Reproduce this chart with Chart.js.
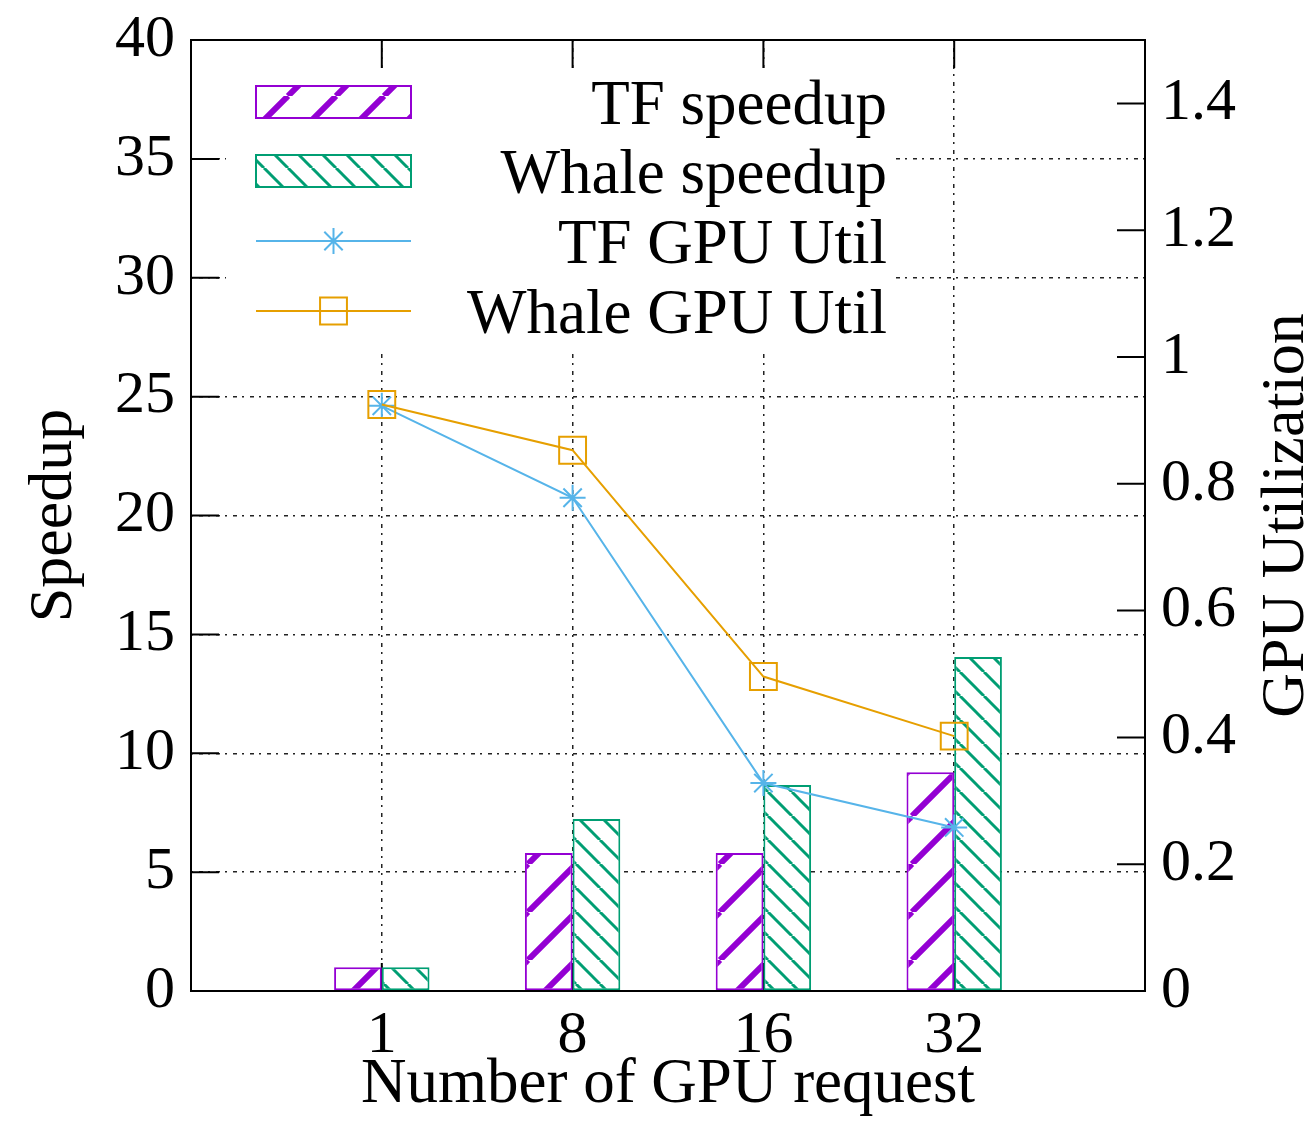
<!DOCTYPE html>
<html>
<head>
<meta charset="utf-8">
<title>Speedup and GPU utilization</title>
<script src="https://cdn.jsdelivr.net/npm/chart.js@4.4.0/dist/chart.umd.min.js"></script>
<style>
  html, body { margin: 0; padding: 0; background: #fff; }
</style>
</head>
<body>
<canvas id="chart1" width="1316" height="1123"></canvas>
<script>
'use strict'

// data
var categories = ['1', '8', '16', '32'];
var tfSpeedup = [1.0, 5.8, 5.8, 9.2];
var whaleSpeedup = [1.0, 7.23, 8.66, 14.05];
var tfUtil = [0.923, 0.778, 0.328, 0.258];
var whaleUtil = [0.925, 0.853, 0.496, 0.402];

var speedupTicks = [0, 5, 10, 15, 20, 25, 30, 35, 40];
var utilTicks = [0, 0.2, 0.4, 0.6, 0.8, 1, 1.2, 1.4];
var utilMax = 1.5;

var names = ['TF speedup', 'Whale speedup', 'TF GPU Util', 'Whale GPU Util'];

var serif = "'Liberation Serif', 'Times New Roman', serif";
var purple = '#9400d3';
var green = '#009e73';
var blue = '#56b4e9';
var orange = '#e69f00';

/////////////////////////////////////////////////////////////////
// empty slot at each end so the 4 groups sit like in gnuplot
function pad(arr) {
  return [null].concat(arr, [null]);
}
var labels = [''].concat(categories, ['']);

/////////////////////////////////////////////////////////////////
function hatch(color, size, width, dir) {
  var c = document.createElement('canvas');
  c.width = size;
  c.height = size;
  var g = c.getContext('2d');
  g.fillStyle = '#fff';
  g.fillRect(0, 0, size, size);
  g.strokeStyle = color;
  g.lineWidth = width;
  g.lineCap = 'butt';
  for (var k = -1; k <= 1; k++) {
    g.beginPath();
    if (dir === '/') {
      g.moveTo(k * size, size);
      g.lineTo(k * size + size, 0);
    } else {
      g.moveTo(k * size, 0);
      g.lineTo(k * size + size, size);
    }
    g.stroke();
  }
  return g.createPattern(c, 'repeat');
}

var tfFill = hatch(purple, 48, 6, '/');
var whaleFill = hatch(green, 24, 3, '\\');

/////////////////////////////////////////////////////////////////
var gridDash = [2, 6, 4, 5];

function tickMarks(chart) {
  var ctx = chart.ctx;
  var a = chart.chartArea;
  var x = chart.scales.x, y = chart.scales.y, y2 = chart.scales.y2;
  var len = 28;
  ctx.save();
  ctx.strokeStyle = '#000';
  ctx.lineWidth = 2;
  ctx.beginPath();
  for (var i = 0; i < speedupTicks.length; i++) {
    var py = y.getPixelForValue(speedupTicks[i]);
    ctx.moveTo(a.left, py);
    ctx.lineTo(a.left + len, py);
  }
  for (var j = 0; j < utilTicks.length; j++) {
    var py2 = y2.getPixelForValue(utilTicks[j]);
    ctx.moveTo(a.right, py2);
    ctx.lineTo(a.right - len, py2);
  }
  for (var k = 1; k <= categories.length; k++) {
    var px = x.getPixelForValue(k);
    ctx.moveTo(px, a.bottom);
    ctx.lineTo(px, a.bottom - len);
    ctx.moveTo(px, a.top);
    ctx.lineTo(px, a.top + len);
  }
  ctx.stroke();
  ctx.restore();
}

function frame(chart) {
  var ctx = chart.ctx;
  var a = chart.chartArea;
  ctx.save();
  ctx.strokeStyle = '#000';
  ctx.lineWidth = 2;
  ctx.strokeRect(a.left, a.top, a.right - a.left, a.bottom - a.top);
  ctx.restore();
}

function rightTitle(chart) {
  var ctx = chart.ctx;
  var a = chart.chartArea;
  ctx.save();
  ctx.translate(1287, (a.top + a.bottom) / 2);
  ctx.rotate(-Math.PI / 2);
  ctx.font = '62px ' + serif;
  ctx.fillStyle = '#000';
  ctx.textAlign = 'center';
  ctx.textBaseline = 'middle';
  ctx.fillText(chart.options.scales.y2.title.text, 0, 0);
  ctx.restore();
}

function legendBox(chart) {
  var ctx = chart.ctx;
  var rows = [102, 171, 241, 311];
  var sx = 256, sw = 155;
  ctx.save();
  ctx.fillStyle = '#fff';
  ctx.fillRect(226, 68, 668, 280);
  chart.data.datasets.forEach(function (ds, i) {
    var ry = rows[i];
    if (ds.type === 'line') {
      ctx.strokeStyle = ds.borderColor;
      ctx.lineWidth = ds.borderWidth;
      ctx.beginPath();
      ctx.moveTo(sx, ry);
      ctx.lineTo(sx + sw, ry);
      ctx.stroke();
      ctx.fillStyle = 'rgba(0,0,0,0)';
      ctx.lineWidth = ds.pointBorderWidth;
      Chart.helpers.drawPoint(ctx, {
        pointStyle: ds.pointStyle,
        radius: ds.pointRadius,
        rotation: 0,
        borderWidth: ds.pointBorderWidth
      }, sx + sw / 2, ry);
    } else {
      ctx.fillStyle = ds.backgroundColor;
      ctx.fillRect(sx, ry - 16, sw, 32);
      ctx.strokeStyle = ds.borderColor;
      ctx.lineWidth = 2;
      ctx.strokeRect(sx, ry - 16, sw, 32);
    }
    ctx.fillStyle = '#000';
    ctx.font = '63px ' + serif;
    ctx.textAlign = 'right';
    ctx.textBaseline = 'alphabetic';
    ctx.fillText(ds.label, 887, ry + 22);
  });
  ctx.restore();
}

var gnuplotLook = {
  id: 'gnuplotLook',
  beforeDatasetsDraw: function (chart) {
    tickMarks(chart);
  },
  afterDatasetsDraw: function (chart) {
    frame(chart);
    legendBox(chart);
    rightTitle(chart);
  }
};

/////////////////////////////////////////////////////////////////
function makeChart() {
  var ctx = document.getElementById('chart1').getContext('2d');
  return new Chart(ctx, {
    type: 'bar',
    data: {
      labels: labels,
      datasets: [{
        type: 'bar',
        label: names[0],
        data: pad(tfSpeedup),
        yAxisID: 'y',
        backgroundColor: tfFill,
        borderColor: purple,
        borderWidth: 2,
        borderSkipped: false,
        barPercentage: 1,
        categoryPercentage: 0.5,
        order: 3
      }, {
        type: 'bar',
        label: names[1],
        data: pad(whaleSpeedup),
        yAxisID: 'y',
        backgroundColor: whaleFill,
        borderColor: green,
        borderWidth: 2,
        borderSkipped: false,
        barPercentage: 1,
        categoryPercentage: 0.5,
        order: 4
      }, {
        type: 'line',
        label: names[2],
        data: pad(tfUtil),
        yAxisID: 'y2',
        borderColor: blue,
        borderWidth: 2,
        pointStyle: 'star',
        pointRadius: 13,
        pointBorderWidth: 2,
        pointBorderColor: blue,
        pointBackgroundColor: 'rgba(0,0,0,0)',
        tension: 0,
        order: 2
      }, {
        type: 'line',
        label: names[3],
        data: pad(whaleUtil),
        yAxisID: 'y2',
        borderColor: orange,
        borderWidth: 2,
        pointStyle: 'rect',
        pointRadius: 19,
        pointBorderWidth: 2,
        pointBorderColor: orange,
        pointBackgroundColor: 'rgba(0,0,0,0)',
        tension: 0,
        order: 1
      }]
    },
    options: {
      responsive: false,
      animation: false,
      devicePixelRatio: 1,
      layout: { padding: { top: 40, left: 0, right: 0, bottom: 0 } },
      plugins: {
        legend: { display: false },
        tooltip: { enabled: false }
      },
      scales: {
        x: {
          type: 'category',
          offset: false,
          grid: {
            offset: false,
            color: function (c) {
              return (c.index === 0 || c.index === labels.length - 1) ? 'rgba(0,0,0,0)' : '#222';
            },
            lineWidth: 1.5,
            drawTicks: false
          },
          border: { display: false, dash: gridDash },
          ticks: {
            color: '#000',
            font: { family: serif, size: 60, lineHeight: 1.2 },
            padding: 9,
            autoSkip: false,
            maxRotation: 0
          },
          title: {
            display: true,
            text: 'Number of GPU request',
            color: '#000',
            font: { family: serif, size: 63, lineHeight: 1.2 },
            padding: { top: 0, bottom: 0 }
          },
          afterFit: function (s) { s.height = 132; }
        },
        y: {
          position: 'left',
          min: 0,
          max: 40,
          afterBuildTicks: function (s) {
            s.ticks = speedupTicks.map(function (v) { return { value: v }; });
          },
          grid: {
            color: function (c) {
              var v = c.tick ? c.tick.value : 0;
              return (v === 0 || v === 40) ? 'rgba(0,0,0,0)' : '#222';
            },
            lineWidth: 1.5,
            drawTicks: false
          },
          border: { display: false, dash: gridDash },
          ticks: {
            color: '#000',
            font: { family: serif, size: 60, lineHeight: 0.8 },
            padding: 16,
            callback: function (v) { return String(v); }
          },
          title: {
            display: true,
            text: 'Speedup',
            color: '#000',
            font: { family: serif, size: 62, lineHeight: 1.2 },
            padding: { top: 18, bottom: 0 }
          },
          afterFit: function (s) { s.width = 191; }
        },
        y2: {
          position: 'right',
          min: 0,
          max: utilMax,
          afterBuildTicks: function (s) {
            s.ticks = utilTicks.map(function (v) { return { value: v }; });
          },
          grid: { drawOnChartArea: false, drawTicks: false },
          border: { display: false },
          ticks: {
            color: '#000',
            font: { family: serif, size: 60, lineHeight: 0.8 },
            padding: 16,
            callback: function (v) { return String(Math.round(v * 10) / 10); }
          },
          // drawn by the plugin, it reads bottom to top like the left one
          title: { display: false, text: 'GPU Utilization' },
          afterFit: function (s) { s.width = 171; }
        }
      }
    },
    plugins: [gnuplotLook]
  });
}

makeChart();
</script>
</body>
</html>
